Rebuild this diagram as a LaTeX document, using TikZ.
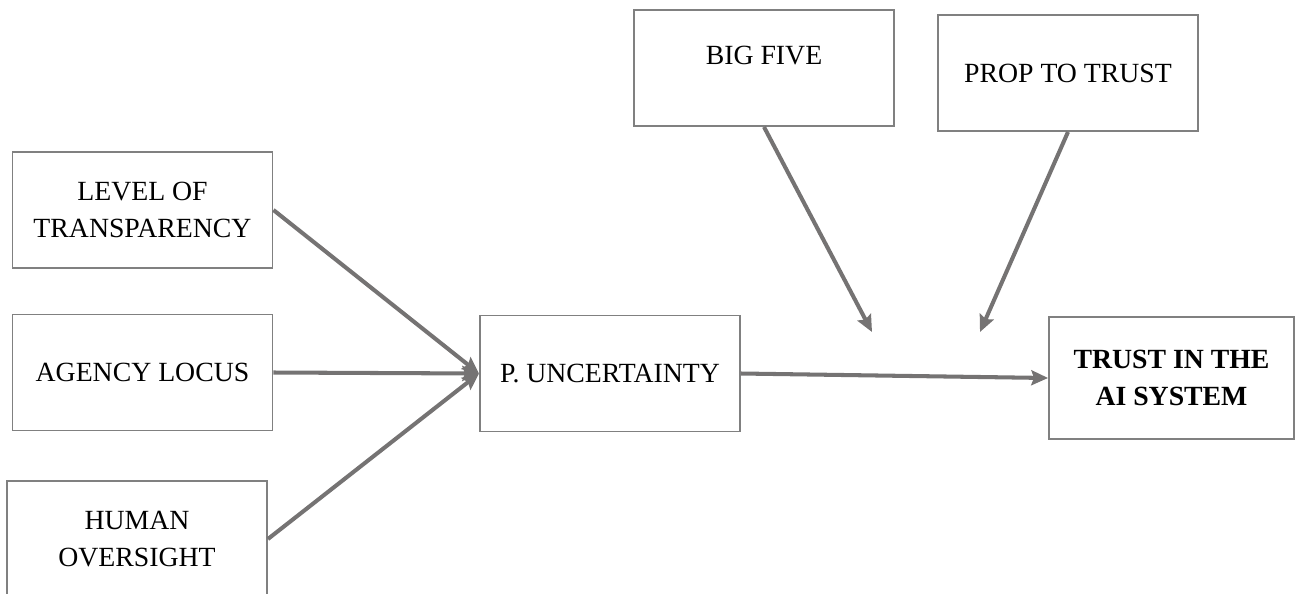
\documentclass[tikz,border=0pt]{standalone}
\usepackage{fontspec}
\setmainfont{Liberation Serif}
\usepackage{tikz}
\usetikzlibrary{arrows.meta, positioning}
\usepackage{xcolor}
\definecolor{boxgray}{RGB}{128,128,128}
\definecolor{arrowgray}{RGB}{117,115,115}
\tikzset{
  basebox/.style={
    rectangle, draw=boxgray, line width=1.1pt, fill=white, align=center,
    font=\fontsize{15.8}{21}\selectfont, minimum width=5.2cm, minimum height=2.32cm, inner sep=2pt
  },
  outcomebox/.style={basebox, font=\fontsize{15.8}{21}\selectfont\bfseries, minimum width=4.9cm, minimum height=2.44cm},
  arrow/.style={-{Stealth[length=9.5pt, width=8.5pt, inset=1.5pt]}, line width=2.3pt, color=arrowgray}
}
\begin{document}
\begin{tikzpicture}[x=0.02cm, y=-0.02cm]
  \useasboundingbox (0,0) rectangle (1296,593);
  \node[basebox] (lot) at (142.5,210) {LEVEL OF\\TRANSPARENCY};
  \node[basebox] (agency) at (142.5,372.5) {AGENCY LOCUS};
  \node[basebox] (human) at (137,539) {HUMAN\\OVERSIGHT};
  \node[basebox] (unc) at (610,373.5) {P. UNCERTAINTY};
  \node[basebox] (bigfive) at (764,68) {\raisebox{14.5pt}{BIG FIVE}};
  \node[basebox] (prop) at (1068,73) {PROP TO TRUST};
  \node[outcomebox] (trust) at (1171.5,378) {TRUST IN THE\\AI SYSTEM};
  \coordinate (mod1) at (872,332);
  \coordinate (mod2) at (980,332);

  \draw[arrow] (lot.east) -- (unc.west);
  \draw[arrow] (agency.east) -- (unc.west);
  \draw[arrow] (human.east) -- (unc.west);
  \draw[arrow] (unc.east) -- (trust.west);
  \draw[arrow] (bigfive.south) -- (mod1);
  \draw[arrow] (prop.south) -- (mod2);
\end{tikzpicture}
\end{document}
